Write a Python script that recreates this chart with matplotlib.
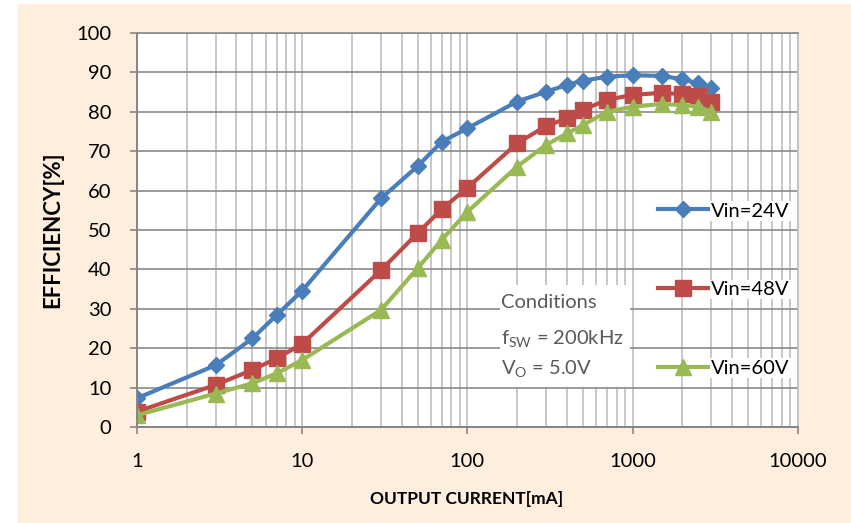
import numpy as np
import matplotlib
matplotlib.use("Agg")
import matplotlib.pyplot as plt
from matplotlib.patches import Rectangle
from matplotlib.ticker import FixedLocator, NullFormatter

plt.rcParams['font.family'] = ['Lato', 'DejaVu Sans']
plt.rcParams['mathtext.fontset'] = 'custom'
plt.rcParams['mathtext.rm'] = 'Lato'
plt.rcParams['mathtext.it'] = 'Lato:italic'

# output current [mA]
current = [1, 3, 5, 7, 10, 30, 50, 70, 100, 200, 300, 400, 500, 700, 1000, 1500, 2000, 2500, 3000]

# efficiency [%]
eff_24v = [7.3, 15.7, 22.5, 28.4, 34.6, 58.0, 66.2, 72.4, 75.8, 82.6, 85.1, 86.8, 87.9, 88.9, 89.3, 89.1, 88.3, 87.2, 86.0]
eff_48v = [3.9, 10.7, 14.5, 17.4, 21.1, 39.8, 49.2, 55.3, 60.7, 72.0, 76.4, 78.3, 80.5, 83.0, 84.3, 84.8, 84.5, 84.0, 82.6]
eff_60v = [3.0, 8.5, 11.1, 13.6, 17.0, 29.7, 40.3, 47.5, 54.6, 66.1, 71.6, 74.5, 76.6, 80.0, 81.3, 82.0, 81.7, 81.3, 80.0]

labels = ['Vin=24V', 'Vin=48V', 'Vin=60V']
x_ticks = [1, 10, 100, 1000, 10000]
y_ticks = list(range(0, 101, 10))

W, H = 851, 523
fig = plt.figure(figsize=(W / 100, H / 100), dpi=100)
fig.patches.append(Rectangle((18 / W, 0), 1, 1 - 4 / H, transform=fig.transFigure,
                             facecolor='#fdeede', edgecolor='none', zorder=-10))

ax = fig.add_axes([137 / W, (H - 427) / H, (797.7 - 137) / W, (427 - 33) / H])
ax.set_facecolor('white')

ax.plot(current, eff_24v, color='#4a7ebb', lw=3, marker='D', ms=8.5, mec='#4a7ebb', label=labels[0])
ax.plot(current, eff_48v, color='#be4b48', lw=3, marker='s', ms=11, mec='#be4b48', label=labels[1])
ax.plot(current, eff_60v, color='#98b954', lw=3, marker='^', ms=12, mec='#98b954', label=labels[2])

ax.set_xscale('log')
ax.set_xlim(1, 10000)
ax.set_ylim(0, 100)
ax.set_xticks(x_ticks)
ax.set_xticklabels([str(v) for v in x_ticks])
ax.xaxis.set_minor_locator(FixedLocator([m * 10 ** d for d in range(4) for m in range(2, 10)]))
ax.xaxis.set_minor_formatter(NullFormatter())
ax.set_yticks(y_ticks)

ax.set_axisbelow(True)
ax.yaxis.grid(True, color='#8a8a8a', lw=1.2)
ax.xaxis.grid(True, which='both', color='#bfbfbf', lw=1.2)

for s in ['left', 'bottom']:
    ax.spines[s].set_color('#868686')
    ax.spines[s].set_linewidth(1.4)
ax.spines['top'].set_color('#8a8a8a')
ax.spines['top'].set_linewidth(1.2)
ax.spines['right'].set_color('#bfbfbf')
ax.spines['right'].set_linewidth(1.2)

ax.tick_params(axis='both', which='major', direction='out', length=5, width=1.2,
               color='#868686', labelsize=14.5, labelcolor='black')
ax.tick_params(axis='y', pad=13.5)
ax.tick_params(axis='x', pad=14)
ax.tick_params(axis='x', which='minor', length=0)

fig.text(467 / W, 1 - 499 / H, 'OUTPUT CURRENT[mA]', ha='center', va='center',
         fontsize=12.5, fontweight='bold')
fig.text(53 / W, 1 - 230 / H, 'EFFICIENCY[%]', ha='center', va='center', rotation=90,
         fontsize=16, fontweight='bold')

# conditions box
ax.add_patch(Rectangle(((500 - 137) / 660.7, (427 - 387) / 394), 130 / 660.7, 102 / 394,
                       transform=ax.transAxes, facecolor='white', edgecolor='none', zorder=1.5))
cond_color = '#595959'
fig.text(501 / W, 1 - 308 / H, 'Conditions', fontsize=14.5, color=cond_color, va='baseline')
fig.text(501 / W, 1 - 344 / H, r'f$_{\mathrm{SW}}$ = 200kHz', fontsize=14.5, color=cond_color, va='baseline')
fig.text(501 / W, 1 - 374 / H, r'V$_{\mathrm{O}}$ = 5.0V', fontsize=14.5, color=cond_color, va='baseline')

leg = ax.legend(loc='center left', bbox_to_anchor=(658 / W, 1 - 289.5 / H),
                bbox_transform=fig.transFigure, frameon=False, fontsize=14.5,
                handlelength=2.49, handletextpad=0.15, labelspacing=3.05,
                borderpad=0, borderaxespad=0, numpoints=1)
for t in leg.get_texts():
    t.set_bbox(dict(facecolor='white', edgecolor='none', pad=1))

fig.savefig('out.png', dpi=100)
